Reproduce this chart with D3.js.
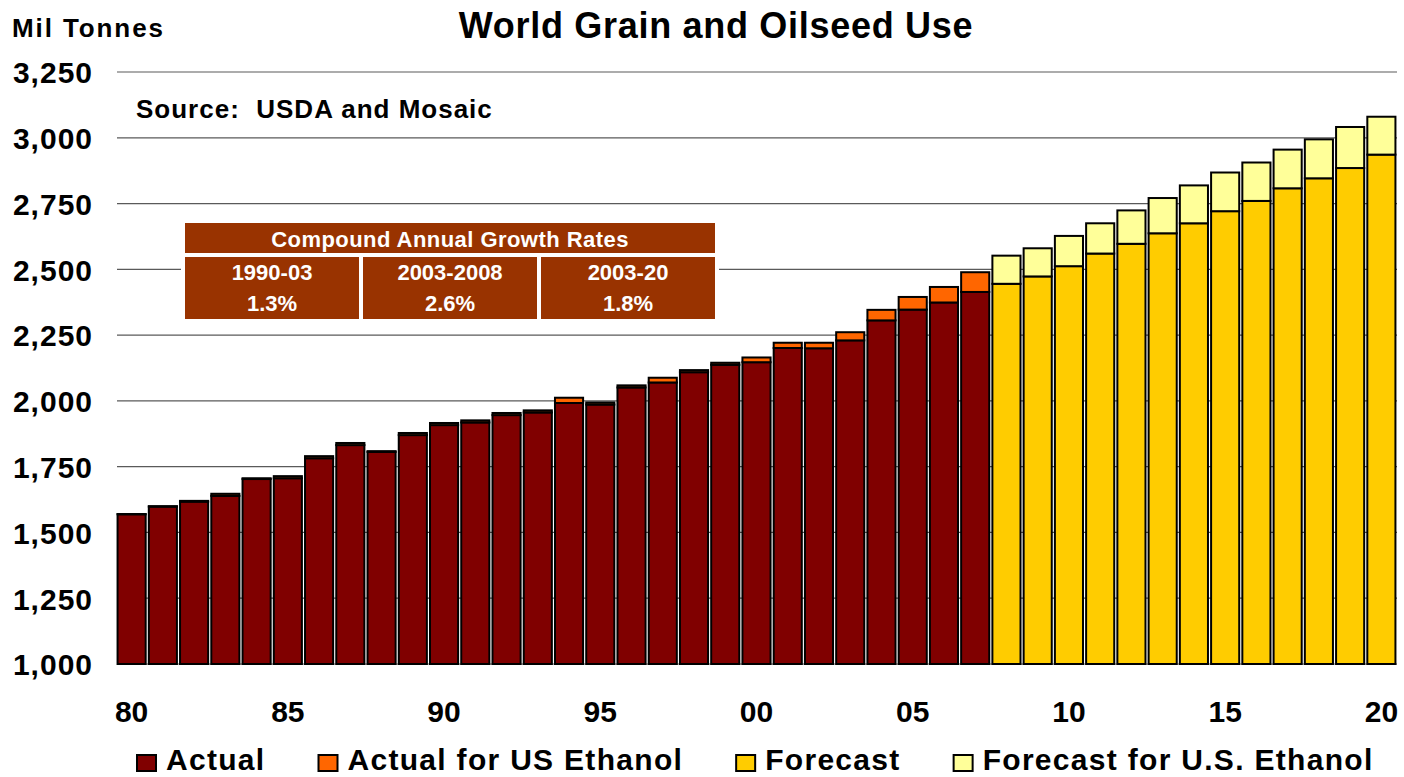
<!DOCTYPE html>
<meta charset="utf-8">
<style>
body { margin: 0; background: #fff; }
text { font-family: "Liberation Sans", Arial, sans-serif; font-weight: bold; }
</style>
<body>
<script src="https://d3js.org/d3.v7.min.js"></script>
<script>

// years on the x axis
var years = d3.range(1980, 2021);
var actualYears = d3.range(1980, 2008);
var forecastYears = d3.range(2008, 2021);

// Mil tonnes, 1980-2007
var actual = [1569, 1598, 1617, 1639, 1703, 1706, 1782, 1832, 1806, 1870,
              1908, 1918, 1946, 1956, 1992, 1986, 2051, 2070, 2109, 2137,
              2147, 2201, 2200, 2230, 2306, 2347, 2374, 2414];
var actualEthanol = [1, 2, 3, 8, 3, 8, 8, 8, 3, 8,
                     8, 8, 8, 8, 20, 8, 8, 18, 8, 8,
                     18, 20, 21, 31, 40, 48, 59, 75];

// Mil tonnes, 2008-2020
var forecast = [2445, 2473, 2512, 2560, 2597, 2637, 2675, 2721, 2760, 2808, 2846, 2885, 2936];
var forecastEthanol = [107, 107, 115, 115, 127, 134, 144, 147, 146, 147, 148, 156, 144];

var yTicks = [1000, 1250, 1500, 1750, 2000, 2250, 2500, 2750, 3000, 3250];
var xTicks = [1980, 1985, 1990, 1995, 2000, 2005, 2010, 2015, 2020];

var growthHeader = "Compound Annual Growth Rates";
var growthPeriods = ["1990-03", "2003-2008", "2003-20"];
var growthRates = ["1.3%", "2.6%", "1.8%"];

var legendItems = [
  {label: "Actual", color: "#800000"},
  {label: "Actual for US Ethanol", color: "#FF6600"},
  {label: "Forecast", color: "#FFCC00"},
  {label: "Forecast for U.S. Ethanol", color: "#FFFF99"}
];

var width = 1404,
    height = 777;

var svg = d3.select("body").append("svg")
    .attr("width", width)
    .attr("height", height);

var x = d3.scaleBand()
    .domain(years)
    .range([116, 1397])
    .paddingInner(0.1)
    .paddingOuter(0.05);

var y = d3.scaleLinear()
    .domain([1000, 3250])
    .range([664, 72]);

// gridlines
svg.append("g")
  .selectAll("line")
  .data(yTicks)
  .enter().append("line")
    .attr("x1", 117)
    .attr("x2", 1397)
    .attr("y1", d => y(d))
    .attr("y2", d => y(d))
    .attr("stroke", "#5a5a5a")
    .attr("stroke-width", 1.2);

// y axis labels
var yAxis = svg.append("g")
    .attr("transform", "translate(117,0)")
    .call(d3.axisLeft(y).tickValues(yTicks).tickFormat(d3.format(",")).tickSize(0).tickPadding(24));
yAxis.select(".domain").remove();
yAxis.selectAll("text")
    .attr("fill", "#000")
    .attr("dy", "0.36em")
    .style("font-size", "30px")
    .style("letter-spacing", "1px");

// x axis labels
var xAxis = svg.append("g")
    .attr("transform", "translate(0,664)")
    .call(d3.axisBottom(x).tickValues(xTicks).tickFormat(d => String(d).slice(2)).tickSize(0).tickPadding(37));
xAxis.select(".domain").remove();
xAxis.selectAll("text")
    .attr("fill", "#000")
    .style("font-size", "30px");

// stacked bars
function stackBars(yrs, base, top, baseColor, topColor) {
  var g = svg.append("g")
      .attr("stroke", "#000")
      .attr("stroke-width", 2);

  g.selectAll("rect.base")
    .data(yrs)
    .enter().append("rect")
      .attr("class", "base")
      .attr("x", d => x(d))
      .attr("width", x.bandwidth())
      .attr("y", (d, i) => y(base[i]))
      .attr("height", (d, i) => y(1000) - y(base[i]))
      .attr("fill", baseColor);

  g.selectAll("rect.top")
    .data(yrs)
    .enter().append("rect")
      .attr("class", "top")
      .attr("x", d => x(d))
      .attr("width", x.bandwidth())
      .attr("y", (d, i) => y(base[i] + top[i]))
      .attr("height", (d, i) => y(base[i]) - y(base[i] + top[i]))
      .attr("fill", topColor);
}

stackBars(actualYears, actual, actualEthanol, legendItems[0].color, legendItems[1].color);
stackBars(forecastYears, forecast, forecastEthanol, legendItems[2].color, legendItems[3].color);

// titles
svg.append("text")
    .attr("x", 716)
    .attr("y", 38)
    .attr("text-anchor", "middle")
    .style("font-size", "36px")
    .style("letter-spacing", "0.7px")
    .text("World Grain and Oilseed Use");

svg.append("text")
    .attr("x", 12)
    .attr("y", 37)
    .style("font-size", "26px")
    .style("letter-spacing", "1.9px")
    .text("Mil Tonnes");

svg.append("text")
    .attr("x", 136)
    .attr("y", 118)
    .style("font-size", "26px")
    .style("letter-spacing", "1px")
    .style("white-space", "pre")
    .text("Source:  USDA and Mosaic");

// growth rate table
var table = svg.append("g");
table.append("rect")
    .attr("x", 181).attr("y", 219)
    .attr("width", 538).attr("height", 104)
    .attr("fill", "#fff");
table.append("rect")
    .attr("x", 185).attr("y", 223)
    .attr("width", 530).attr("height", 30)
    .attr("fill", "#993300");
table.append("text")
    .attr("x", 450).attr("y", 247)
    .attr("text-anchor", "middle")
    .attr("fill", "#fff")
    .style("font-size", "22px")
    .style("letter-spacing", "0.45px")
    .text(growthHeader);

var cellX = [185, 363, 541];
var cells = table.selectAll("g.cell")
  .data(growthPeriods)
  .enter().append("g")
    .attr("class", "cell")
    .attr("transform", (d, i) => "translate(" + cellX[i] + ",257)");
cells.append("rect")
    .attr("width", 174).attr("height", 62)
    .attr("fill", "#993300");
cells.append("text")
    .attr("x", 87).attr("y", 23)
    .attr("text-anchor", "middle")
    .attr("fill", "#fff")
    .style("font-size", "22px")
    .text(d => d);
cells.append("text")
    .attr("x", 87).attr("y", 54)
    .attr("text-anchor", "middle")
    .attr("fill", "#fff")
    .style("font-size", "22px")
    .text((d, i) => growthRates[i]);

// legend
var legend = svg.append("g");
var lx = 137;
legendItems.forEach(function(item) {
  legend.append("rect")
      .attr("x", lx).attr("y", 755)
      .attr("width", 19).attr("height", 16)
      .attr("fill", item.color)
      .attr("stroke", "#000")
      .attr("stroke-width", 2);
  var t = legend.append("text")
      .attr("x", lx + 29).attr("y", 770)
      .style("font-size", "30px")
      .style("letter-spacing", "1.3px")
      .text(item.label);
  lx += 29 + t.node().getComputedTextLength() + 53;
});

</script>
</body>
</html>
